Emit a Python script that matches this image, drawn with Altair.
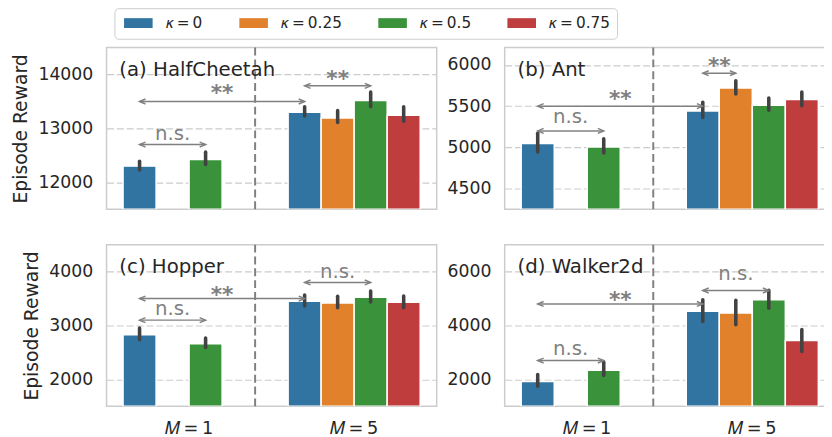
import altair as alt
import pandas as pd

ENVS = ["(a) HalfCheetah", "(b) Ant", "(c) Hopper", "(d) Walker2d"]
M_LABELS = ["𝑀\u2009=\u20091", "𝑀\u2009=\u20095"]
KAPPA_LABELS = ["𝜅\u2009=\u20090", "𝜅\u2009=\u20090.25", "𝜅\u2009=\u20090.5", "𝜅\u2009=\u20090.75"]
COLORS = ["#3274a1", "#e1812c", "#3a923a", "#c03d3e"]

# bars present in every panel: (M index, kappa index)
BAR_M = [0, 0, 1, 1, 1, 1]
BAR_K = [0, 2, 0, 1, 2, 3]

MEAN = {
    "(a) HalfCheetah": [12300, 12425, 13300, 13195, 13520, 13245],
    "(b) Ant": [5048, 5004, 5440, 5719, 5512, 5580],
    "(c) Hopper": [2828, 2662, 3450, 3419, 3524, 3432],
    "(d) Walker2d": [1926, 2343, 4531, 4468, 4959, 3446],
}
LOW = {
    "(a) HalfCheetah": [12230, 12330, 13232, 13110, 13402, 13135],
    "(b) Ant": [4945, 4933, 5362, 5648, 5449, 5505],
    "(c) Hopper": [2736, 2594, 3363, 3332, 3437, 3332],
    "(d) Walker2d": [1742, 2148, 4148, 4026, 4642, 3040],
}
HIGH = {
    "(a) HalfCheetah": [12390, 12560, 13402, 13330, 13676, 13402],
    "(b) Ant": [5171, 5104, 5548, 5807, 5600, 5671],
    "(c) Hopper": [2952, 2767, 3566, 3542, 3640, 3548],
    "(d) Walker2d": [2185, 2638, 4959, 4935, 5306, 3852],
}
YDOM = {
    "(a) HalfCheetah": [11500, 14500],
    "(b) Ant": [4250, 6210],
    "(c) Hopper": [1500, 4500],
    "(d) Walker2d": [1000, 7000],
}
YTICKS = {
    "(a) HalfCheetah": [12000, 13000, 14000],
    "(b) Ant": [4500, 5000, 5500, 6000],
    "(c) Hopper": [2000, 3000, 4000],
    "(d) Walker2d": [2000, 4000, 6000],
}
# significance annotations: from (M idx, kappa idx) -> to (M idx, kappa idx), arrow y, label, label centre y
ANN = {
    "(a) HalfCheetah": [(0, 0, 0, 2, 12700, "n.s.", 12890),
                        (0, 0, 1, 0, 13500, "**", 13730),
                        (1, 0, 1, 2, 13790, "**", 13980)],
    "(b) Ant": [(0, 0, 0, 2, 5200, "n.s.", 5365),
                (0, 0, 1, 0, 5500, "**", 5630),
                (1, 0, 1, 1, 5900, "**", 6030)],
    "(c) Hopper": [(0, 0, 0, 2, 3100, "n.s.", 3300),
                   (0, 0, 1, 0, 3500, "**", 3640),
                   (1, 0, 1, 2, 3800, "n.s.", 3990)],
    "(d) Walker2d": [(0, 0, 0, 2, 2700, "n.s.", 3100),
                     (0, 0, 1, 0, 4800, "**", 5100),
                     (1, 0, 1, 2, 5300, "n.s.", 5880)],
}
# dashed separator between the M groups (in group-index units, M=1 at 0, M=5 at 1)
SEPARATOR = [0.4]

W, H = 335, 164
GRAY = "#808080"
TXT = "#262626"
LEFT_HEAD = "M1.2,-0.5L0,0L1.2,0.5"
RIGHT_HEAD = "M-1.2,-0.5L0,0L-1.2,0.5"
SWATCH = "M-1,-1H4.8V1H-1Z"


def panel(i, env):
    bottom = i >= 2
    left = i % 2 == 0
    bars_df = pd.DataFrame({
        "M": [M_LABELS[m] for m in BAR_M],
        "kappa": [KAPPA_LABELS[k] for k in BAR_K],
        "mean": MEAN[env], "lo": LOW[env], "hi": HIGH[env],
    })
    ann_df = pd.DataFrame(ANN[env], columns=["m0", "k0", "m1", "k1", "ay", "label", "ly"])
    ann_df["nk"] = len(KAPPA_LABELS)

    yscale = alt.Scale(domain=YDOM[env], nice=False, zero=False)
    yaxis = alt.Axis(values=YTICKS[env], format="d", title="Episode Reward" if left else None,
                     grid=True, gridDash=[7, 3], gridColor="#cccccc", gridWidth=1.2,
                     labelPadding=14, titlePadding=8)

    def Y(field):
        return alt.Y(field, scale=yscale, axis=yaxis)

    xband = alt.Scale(domain=M_LABELS, paddingInner=0.2, paddingOuter=0.1)
    xoff = alt.XOffset("kappa:N", scale=alt.Scale(domain=KAPPA_LABELS, paddingInner=0, paddingOuter=0))
    xaxis = alt.Axis(title=None, labelAngle=0, labelFontSize=18, labelPadding=14) if bottom else None

    base = alt.Chart(bars_df)
    bars = base.mark_bar(stroke="white", strokeWidth=1.5, clip=True).encode(
        x=alt.X("M:N", scale=xband, axis=xaxis),
        xOffset=xoff,
        y=Y("mean:Q"),
        y2=alt.datum(YDOM[env][0]),
        color=alt.Color("kappa:N", scale=alt.Scale(domain=KAPPA_LABELS, range=COLORS), title=None),
    )
    errs = base.mark_rule(color="#424242", strokeWidth=3.6, strokeCap="round").encode(
        x=alt.X("M:N", scale=xband, axis=xaxis),
        xOffset=xoff,
        y=Y("lo:Q"),
        y2="hi:Q",
    )
    data_layer = alt.layer(bars, errs)

    # annotation layer on a linear copy of the band positions (group index units)
    qx = alt.Scale(domain=[-0.5, 1.5], nice=False, zero=False)
    ann = alt.Chart(ann_df).transform_calculate(
        x0="datum.m0 + 0.8 * ((datum.k0 + 0.5) / datum.nk - 0.5)",
        x1="datum.m1 + 0.8 * ((datum.k1 + 0.5) / datum.nk - 0.5)",
    ).transform_calculate(xm="(datum.x0 + datum.x1) / 2")
    arrows = ann.mark_rule(color=GRAY, strokeWidth=1.5).encode(
        x=alt.X("x0:Q", scale=qx, axis=None), x2="x1:Q", y=Y("ay:Q"))
    head_l = ann.mark_point(shape=LEFT_HEAD, size=100, filled=False, color=GRAY,
                            strokeWidth=1.5, opacity=1).encode(
        x=alt.X("x0:Q", scale=qx, axis=None), y=Y("ay:Q"))
    head_r = ann.mark_point(shape=RIGHT_HEAD, size=100, filled=False, color=GRAY,
                            strokeWidth=1.5, opacity=1).encode(
        x=alt.X("x1:Q", scale=qx, axis=None), y=Y("ay:Q"))
    txt_ns = ann.transform_filter("datum.label == 'n.s.'").mark_text(
        fontSize=20, color=GRAY, baseline="alphabetic", dy=5.5).encode(
        x=alt.X("xm:Q", scale=qx, axis=None), y=Y("ly:Q"), text="label:N")
    txt_st = ann.transform_filter("datum.label == '**'").mark_text(
        fontSize=22, fontWeight="bold", color=GRAY, baseline="alphabetic", dy=11).encode(
        x=alt.X("xm:Q", scale=qx, axis=None), y=Y("ly:Q"), text="label:N")
    sep = alt.Chart(pd.DataFrame({"b": SEPARATOR})).mark_rule(
        color=GRAY, strokeWidth=2, strokeDash=[8, 4]).encode(x=alt.X("b:Q", scale=qx, axis=None))
    title = alt.Chart(pd.DataFrame({"t": [env]})).mark_text(
        align="left", baseline="alphabetic", fontSize=20, color=TXT).encode(
        x=alt.value(13), y=alt.value(29), text="t:N")
    ann_layer = alt.layer(sep, arrows, head_l, head_r, txt_ns, txt_st, title)

    return alt.layer(data_layer, ann_layer).resolve_scale(x="independent").properties(width=W, height=H)


panels = [panel(i, e) for i, e in enumerate(ENVS)]
chart = alt.hconcat(
    alt.vconcat(panels[0], panels[2], spacing=32),
    alt.vconcat(panels[1], panels[3], spacing=32),
    spacing=8,
).properties(
    padding={"left": 2, "top": -4, "right": -12, "bottom": 0}
).configure(
    font="DejaVu Sans"
).configure_view(
    stroke="#cccccc", strokeWidth=1.5
).configure_axis(
    labelFontSize=17.5, titleFontSize=19, labelColor=TXT, titleColor=TXT,
    titleFontWeight="normal", domain=False, ticks=False,
).configure_legend(
    orient="none", legendX=8, legendY=-40, direction="horizontal",
    symbolType=SWATCH, symbolSize=100, symbolStrokeWidth=0, symbolOpacity=1,
    labelFontSize=15.5, labelColor=TXT, labelOffset=29.5, columnPadding=34,
    padding=7, strokeColor="#cccccc", fillColor="white", cornerRadius=4,
)

chart.save("out.html", embed_options={"renderer": "svg", "actions": False})
